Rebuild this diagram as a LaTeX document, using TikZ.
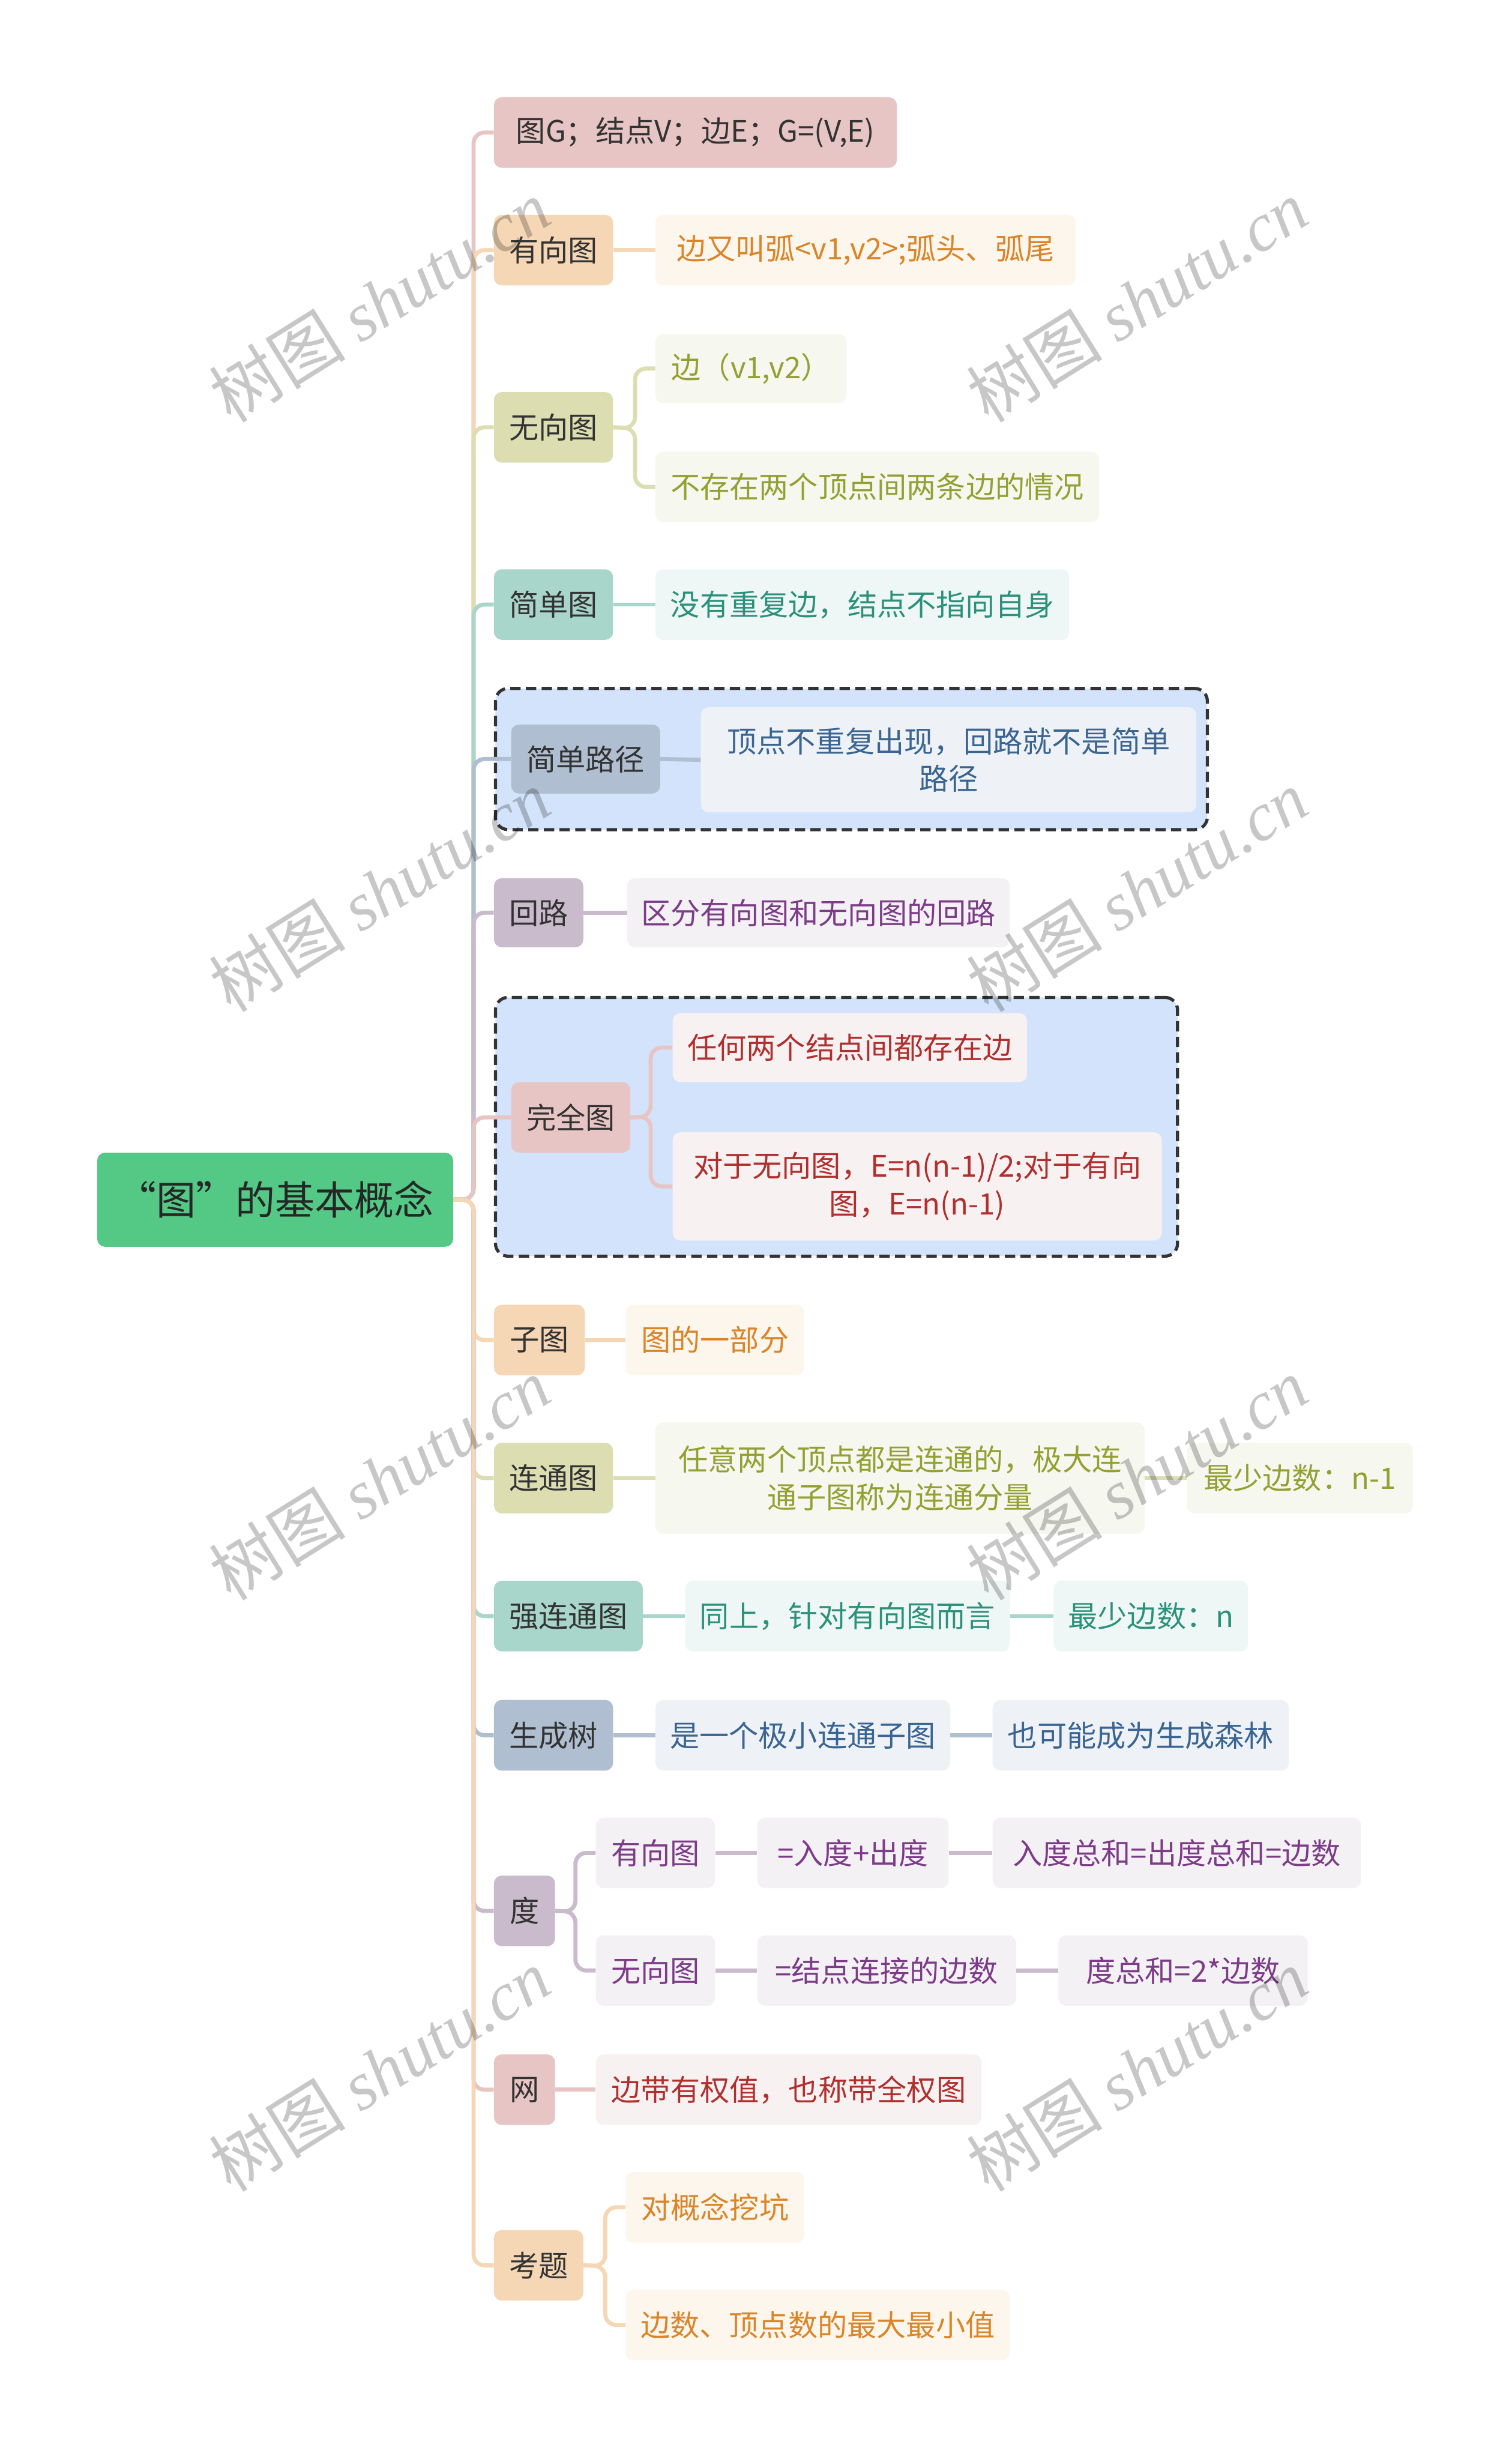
\documentclass[tikz,border=0pt]{standalone}
\usepackage{fontspec}
\setmainfont{Noto Sans CJK SC}
\newfontfamily\cjk{Noto Sans CJK SC}
\newfontfamily\wmlat{Liberation Serif}
\pgfdeclarelayer{bgl}
\pgfdeclarelayer{boxl}
\pgfdeclarelayer{connl}
\pgfdeclarelayer{wml}
\pgfsetlayers{bgl,boxl,connl,main,wml}
\definecolor{cDark}{HTML}{333333}
\definecolor{cPinkM}{HTML}{E8C5C5}
\definecolor{cPinkL}{HTML}{F8F1F1}
\definecolor{cPinkT}{HTML}{B0302F}
\definecolor{cPeachM}{HTML}{F5D7B5}
\definecolor{cPeachL}{HTML}{FDF6EC}
\definecolor{cPeachT}{HTML}{DB8428}
\definecolor{cKhakiM}{HTML}{DCDEB2}
\definecolor{cKhakiL}{HTML}{F6F7EE}
\definecolor{cKhakiT}{HTML}{93A032}
\definecolor{cTealM}{HTML}{A9D6CB}
\definecolor{cTealL}{HTML}{EEF7F5}
\definecolor{cTealT}{HTML}{2C917C}
\definecolor{cBlueM}{HTML}{AFBED0}
\definecolor{cBlueL}{HTML}{EEF2F6}
\definecolor{cBlueT}{HTML}{3A6592}
\definecolor{cMauveM}{HTML}{C9BBCB}
\definecolor{cMauveL}{HTML}{F4F1F4}
\definecolor{cMauveT}{HTML}{7C3C88}
\definecolor{cRoot}{HTML}{53C985}
\definecolor{cBox}{HTML}{D3E3FB}
\newcommand\mm[7]{\node[#2, minimum width={(#5-#3)*0.05cm}, minimum height={(#6-#4)*0.05cm}] (#1) at ({(#3+#5)/2},{(#4+#6)/2}) {#7};}
\tikzset{
  base/.style={rounded corners=0.25cm, inner sep=0pt, align=center, font=\cjk\fontsize{26.8}{34}\selectfont},
  pinkM/.style={base, fill=cPinkM, text=cDark},
  pinkL/.style={base, fill=cPinkL, text=cPinkT},
  peachM/.style={base, fill=cPeachM, text=cDark},
  peachL/.style={base, fill=cPeachL, text=cPeachT},
  khakiM/.style={base, fill=cKhakiM, text=cDark},
  khakiL/.style={base, fill=cKhakiL, text=cKhakiT},
  tealM/.style={base, fill=cTealM, text=cDark},
  tealL/.style={base, fill=cTealL, text=cTealT},
  blueM/.style={base, fill=cBlueM, text=cDark},
  blueL/.style={base, fill=cBlueL, text=cBlueT},
  mauveM/.style={base, fill=cMauveM, text=cDark},
  mauveL/.style={base, fill=cMauveL, text=cMauveT},
  rootbox/.style={rounded corners=0.25cm, inner sep=0pt, fill=cRoot, text=black!85, font=\cjk\fontsize{36}{44}\selectfont},
  dbox/.style={rounded corners=0.4cm, inner sep=0pt, fill=cBox, draw=cDark, line width=0.1cm, dash pattern=on 0.33cm off 0.17cm},
  conn/.style={line width=0.13cm, rounded corners=0.35cm},
  wmark/.style={rotate=32, text=black, text opacity=0.22, inner sep=0pt}
}
\begin{document}
\begin{tikzpicture}[x=0.05cm, y=-0.05cm]
\begin{pgfonlayer}{bgl}
\fill[white] (0,0) rectangle (964,1568);
\end{pgfonlayer}
\useasboundingbox (0,0) rectangle (964,1568);
% root
\mm{root}{rootbox}{62}{735}{289}{795}{“图”的基本概念}
% level 1 and children
\mm{n1}{pinkM}{315}{62}{572}{107}{图G；结点V；边E；G=(V,E)}
\mm{n2}{peachM}{315}{137}{391}{182}{有向图}
\mm{n2a}{peachL}{418}{137}{686}{182}{边又叫弧<v1,v2>;弧头、弧尾}
\mm{n3}{khakiM}{315}{250}{391}{295}{无向图}
\mm{n3a}{khakiL}{418}{213}{540}{257}{边（v1,v2）}
\mm{n3b}{khakiL}{418}{288}{701}{333}{不存在两个顶点间两条边的情况}
\mm{n4}{tealM}{315}{363}{391}{408}{简单图}
\mm{n4a}{tealL}{418}{363}{682}{408}{没有重复边，结点不指向自身}
\begin{pgfonlayer}{boxl}
\mm{box5}{dbox}{316}{439}{770}{529}{}
\mm{box7}{dbox}{316}{636}{751}{801}{}
\end{pgfonlayer}
\mm{n5}{blueM}{326}{462}{421}{506}{简单路径}
\mm{n5a}{blueL}{447}{451}{763}{518}{顶点不重复出现，回路就不是简单\\路径}
\mm{n6}{mauveM}{315}{560}{372}{604}{回路}
\mm{n6a}{mauveL}{400}{560}{644}{604}{区分有向图和无向图的回路}
\mm{n7}{pinkM}{326}{690}{402}{735}{完全图}
\mm{n7a}{pinkL}{429}{646}{655}{690}{任何两个结点间都存在边}
\mm{n7b}{pinkL}{429}{722}{741}{791}{对于无向图，E=n(n-1)/2;对于有向\\图，E=n(n-1)}
\mm{n8}{peachM}{315}{832}{373}{877}{子图}
\mm{n8a}{peachL}{399}{832}{513}{877}{图的一部分}
\mm{n9}{khakiM}{315}{920}{391}{965}{连通图}
\mm{n9a}{khakiL}{418}{907}{730}{978}{任意两个顶点都是连通的，极大连\\通子图称为连通分量}
\mm{n9b}{khakiL}{757}{920}{901}{965}{最少边数：n-1}
\mm{n10}{tealM}{315}{1008}{410}{1053}{强连通图}
\mm{n10a}{tealL}{437}{1008}{644}{1053}{同上，针对有向图而言}
\mm{n10b}{tealL}{672}{1008}{796}{1053}{最少边数：n}
\mm{n11}{blueM}{315}{1084}{391}{1129}{生成树}
\mm{n11a}{blueL}{418}{1084}{606}{1129}{是一个极小连通子图}
\mm{n11b}{blueL}{633}{1084}{822}{1129}{也可能成为生成森林}
\mm{n12}{mauveM}{315}{1196}{354}{1241}{度}
\mm{n12a}{mauveL}{380}{1159}{456}{1204}{有向图}
\mm{n12a1}{mauveL}{483}{1159}{605}{1204}{=入度+出度}
\mm{n12a2}{mauveL}{633}{1159}{868}{1204}{入度总和=出度总和=边数}
\mm{n12b}{mauveL}{380}{1234}{456}{1279}{无向图}
\mm{n12b1}{mauveL}{483}{1234}{648}{1279}{=结点连接的边数}
\mm{n12b2}{mauveL}{675}{1234}{834}{1279}{度总和=2*边数}
\mm{n13}{pinkM}{315}{1310}{354}{1355}{网}
\mm{n13a}{pinkL}{380}{1310}{626}{1355}{边带有权值，也称带全权图}
\mm{n14}{peachM}{315}{1422}{372}{1467}{考题}
\mm{n14a}{peachL}{399}{1385}{513}{1430}{对概念挖坑}
\mm{n14b}{peachL}{399}{1460}{644}{1505}{边数、顶点数的最大最小值}
% junction coordinates
\coordinate (T) at (302,765);
\coordinate (b3) at (405,273);
\coordinate (b7) at (415,712);
\coordinate (b12) at (367,1219);
\coordinate (b14) at (386,1445);
\begin{pgfonlayer}{connl}
\draw[conn, cPinkM] (root.east) -- (T) |- (n1.west);
\draw[conn, cPeachM] (root.east) -- (T) |- (n2.west);
\draw[conn, cKhakiM] (root.east) -- (T) |- (n3.west);
\draw[conn, cTealM] (root.east) -- (T) |- (n4.west);
\draw[conn, cBlueM] (root.east) -- (T) |- (n5.west);
\draw[conn, cMauveM] (root.east) -- (T) |- (n6.west);
\draw[conn, cPinkM] (root.east) -- (T) |- (n7.west);
\draw[conn, cPeachM] (root.east) -- (T) |- (n8.west);
\draw[conn, cKhakiM] (root.east) -- (T) |- (n9.west);
\draw[conn, cTealM] (root.east) -- (T) |- (n10.west);
\draw[conn, cBlueM] (root.east) -- (T) |- (n11.west);
\draw[conn, cMauveM] (root.east) -- (T) |- (n12.west);
\draw[conn, cPinkM] (root.east) -- (T) |- (n13.west);
\draw[conn, cPeachM] (root.east) -- (T) |- (n14.west);
% level 2
\draw[conn, cPeachM] (n2.east) -- (n2a.west);
\draw[conn, cKhakiM] (n3.east) -- (b3) |- (n3a.west);
\draw[conn, cKhakiM] (n3.east) -- (b3) |- (n3b.west);
\draw[conn, cTealM] (n4.east) -- (n4a.west);
\draw[conn, cBlueM] (n5.east) -- (n5a.west);
\draw[conn, cMauveM] (n6.east) -- (n6a.west);
\draw[conn, cPinkM] (n7.east) -- (b7) |- (n7a.west);
\draw[conn, cPinkM] (n7.east) -- (b7) |- (n7b.west);
\draw[conn, cPeachM] (n8.east) -- (n8a.west);
\draw[conn, cKhakiM] (n9.east) -- (n9a.west);
\draw[conn, cKhakiM] (n9a.east) -- (n9b.west);
\draw[conn, cTealM] (n10.east) -- (n10a.west);
\draw[conn, cTealM] (n10a.east) -- (n10b.west);
\draw[conn, cBlueM] (n11.east) -- (n11a.west);
\draw[conn, cBlueM] (n11a.east) -- (n11b.west);
\draw[conn, cMauveM] (n12.east) -- (b12) |- (n12a.west);
\draw[conn, cMauveM] (n12.east) -- (b12) |- (n12b.west);
\draw[conn, cMauveM] (n12a.east) -- (n12a1.west);
\draw[conn, cMauveM] (n12a1.east) -- (n12a2.west);
\draw[conn, cMauveM] (n12b.east) -- (n12b1.west);
\draw[conn, cMauveM] (n12b1.east) -- (n12b2.west);
\draw[conn, cPinkM] (n13.east) -- (n13a.west);
\draw[conn, cPeachM] (n14.east) -- (b14) |- (n14a.west);
\draw[conn, cPeachM] (n14.east) -- (b14) |- (n14b.west);
\end{pgfonlayer}
% watermarks
\begin{pgfonlayer}{wml}
\foreach \wx/\wy [count=\i] in {242/192, 725/192, 242/568, 725/568, 242/943, 725/943, 242/1320, 725/1320}{
  \node[wmark] (wm\i) at (\wx,\wy) {\fontsize{62}{62}\selectfont\cjk 树图 \wmlat\itshape shutu.cn};
}
\end{pgfonlayer}
\end{tikzpicture}
\end{document}
